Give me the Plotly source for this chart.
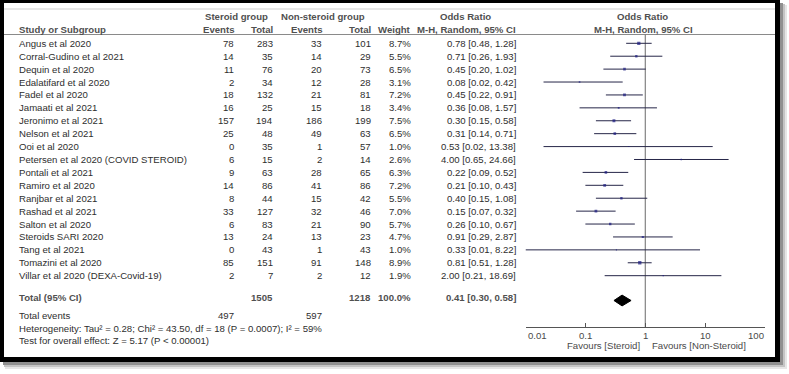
import math
import plotly.graph_objects as go

# ---------------- data ----------------
studies = [
    "Angus et al 2020", "Corral-Gudino et al 2021", "Dequin et al 2020",
    "Edalatifard et al 2020", "Fadel et al 2020", "Jamaati et al 2021",
    "Jeronimo et al 2021", "Nelson et al 2021", "Ooi et al 2020",
    "Petersen et al 2020 (COVID STEROID)", "Pontali et al 2021",
    "Ramiro et al 2020", "Ranjbar et al 2021", "Rashad et al 2021",
    "Salton et al 2020", "Steroids SARI 2020", "Tang et al 2021",
    "Tomazini et al 2020", "Villar et al 2020 (DEXA-Covid-19)",
]
ster_events = [78, 14, 11, 2, 18, 16, 157, 25, 0, 6, 9, 14, 8, 33, 6, 13, 0, 85, 2]
ster_total = [283, 35, 76, 34, 132, 25, 194, 48, 35, 15, 63, 86, 44, 127, 83, 24, 43, 151, 7]
non_events = [33, 14, 20, 12, 21, 15, 186, 49, 1, 2, 28, 41, 15, 32, 21, 13, 1, 91, 2]
non_total = [101, 29, 73, 28, 81, 18, 199, 63, 57, 14, 65, 86, 42, 46, 90, 23, 43, 148, 12]
weights = [8.7, 5.5, 6.5, 3.1, 7.2, 3.4, 7.5, 6.5, 1.0, 2.6, 6.3, 7.2, 5.5, 7.0, 5.7, 4.7, 1.0, 8.9, 1.9]
odds = [0.78, 0.71, 0.45, 0.08, 0.45, 0.36, 0.30, 0.31, 0.53, 4.00, 0.22, 0.21, 0.40, 0.15, 0.26, 0.91, 0.33, 0.81, 2.00]
ci_lo = [0.48, 0.26, 0.20, 0.02, 0.22, 0.08, 0.15, 0.14, 0.02, 0.65, 0.09, 0.10, 0.15, 0.07, 0.10, 0.29, 0.01, 0.51, 0.21]
ci_hi = [1.28, 1.93, 1.02, 0.42, 0.91, 1.57, 0.58, 0.71, 13.38, 24.66, 0.52, 0.43, 1.08, 0.32, 0.67, 2.87, 8.22, 1.28, 18.69]

total_ster = 1505
total_non = 1218
total_ster_events = 497
total_non_events = 597
total_weight = 100.0
pooled_or, pooled_lo, pooled_hi = 0.41, 0.30, 0.58

tick_vals = [0.01, 0.1, 1, 10, 100]
tick_text = ["0.01", "0.1", "1", "10", "100"]

heterogeneity = "Heterogeneity: Tau\u00b2 = 0.28; Chi\u00b2 = 43.50, df = 18 (P = 0.0007); I\u00b2 = 59%"
overall_test = "Test for overall effect: Z = 5.17 (P < 0.00001)"

# ---------------- layout geometry ----------------
W, H = 789, 374
ROW0 = 43.3      # pixel centre of first study row
ROWH = 12.91     # pixel height of a row
FONT = "Liberation Sans, Arial, sans-serif"
BODY = "#2e2e2e"
HEAD = "#505050"
FS = 9.6


def px(x):
    return x / W


def py(y):
    return 1 - y / H


def row_of(ypix):
    return (ypix - ROW0) / ROWH


n = len(studies)
row_total = row_of(297.3)
row_events = row_of(315.7)
row_het = row_of(328.0)
row_test = row_of(340.3)
row_head1 = row_of(16.0)
row_head2 = row_of(29.0)
row_axis = row_of(327.0)
row_ticklab = row_of(335.5)
row_fav = row_of(345.7)
row_diamond = row_of(300.5)

fig = go.Figure()

# vertical line of no effect
fig.add_trace(go.Scatter(
    x=[1, 1], y=[row_of(34.5), row_axis], mode="lines",
    line=dict(color="#6a6a6a", width=1), hoverinfo="skip", showlegend=False))

# confidence intervals
cx, cy = [], []
for i in range(n):
    cx += [ci_lo[i], ci_hi[i], None]
    cy += [i, i, None]
fig.add_trace(go.Scatter(
    x=cx, y=cy, mode="lines", line=dict(color="#262648", width=1),
    hoverinfo="skip", showlegend=False))

# point estimates
fig.add_trace(go.Scatter(
    x=odds, y=list(range(n)), mode="markers",
    marker=dict(symbol="square", color="#1a1a80",
                size=[0.8 + 0.28 * w for w in weights], line=dict(width=0)),
    hoverinfo="skip", showlegend=False))

# pooled diamond
dh = 0.42
fig.add_trace(go.Scatter(
    x=[pooled_lo, pooled_or, pooled_hi, pooled_or, pooled_lo],
    y=[row_diamond, row_diamond - dh, row_diamond, row_diamond + dh, row_diamond],
    mode="lines", fill="toself", fillcolor="black",
    line=dict(color="black", width=1), hoverinfo="skip", showlegend=False))

ann = []


def txt(x, y, s, anchor="left", bold=False, color=None, size=FS):
    ann.append(dict(
        x=px(x), y=y, xref="paper", yref="y", text=("<b>%s</b>" % s) if bold else s,
        showarrow=False, xanchor=anchor, align=anchor, yanchor="middle", borderpad=0,
        font=dict(family=FONT, size=size, color=color or (HEAD if bold else BODY))))


# headers
txt(236, row_head1, "Steroid group", "center", True)
txt(323, row_head1, "Non-steroid group", "center", True)
txt(465, row_head1, "Odds Ratio", "center", True)
txt(642, row_head1, "Odds Ratio", "center", True)
txt(18, row_head2, "Study or Subgroup", "left", True)
txt(235, row_head2, "Events", "right", True)
txt(274, row_head2, "Total", "right", True)
txt(323, row_head2, "Events", "right", True)
txt(372, row_head2, "Total", "right", True)
txt(412, row_head2, "Weight", "right", True)
txt(517, row_head2, "M-H, Random, 95% CI", "right", True)
txt(643, row_head2, "M-H, Random, 95% CI", "center", True)

# study rows
for i in range(n):
    txt(18, i, studies[i])
    txt(235, i, str(ster_events[i]), "right")
    txt(274, i, str(ster_total[i]), "right")
    txt(323, i, str(non_events[i]), "right")
    txt(372, i, str(non_total[i]), "right")
    txt(412, i, "%.1f%%" % weights[i], "right")
    txt(517, i, "%.2f [%.2f, %.2f]" % (odds[i], ci_lo[i], ci_hi[i]), "right")

# totals
txt(18, row_total, "Total (95% CI)", "left", True)
txt(274, row_total, str(total_ster), "right", True)
txt(372, row_total, str(total_non), "right", True)
txt(412, row_total, "%.1f%%" % total_weight, "right", True)
txt(517, row_total, "%.2f [%.2f, %.2f]" % (pooled_or, pooled_lo, pooled_hi), "right", True)
txt(18, row_events, "Total events")
txt(235, row_events, str(total_ster_events), "right")
txt(323, row_events, str(total_non_events), "right")
txt(18, row_het, heterogeneity)
txt(18, row_test, overall_test)

# tick labels (outer ones aligned inward, as in the original)
x_lo_px, x_hi_px = 525.5, 765.0
for v, t in zip(tick_vals, tick_text):
    xp = x_lo_px + (math.log10(v) + 2) / 4 * (x_hi_px - x_lo_px)
    anchor = "left" if v == tick_vals[0] else ("right" if v == tick_vals[-1] else "center")
    txt(xp + (1 if anchor == "left" else 0), row_ticklab, t, anchor, color="#4a4a4a")

txt(641, row_fav, "Favours [Steroid]", "right", color="#4a4a4a")
txt(651, row_fav, "Favours [Non-Steroid]", "left", color="#4a4a4a")

# frame with shadow and rules
shapes = []


def rect(x0, y0, x1, y1, color):
    shapes.append(dict(type="rect", xref="paper", yref="paper",
                       x0=px(x0), x1=px(x1), y0=py(y1), y1=py(y0),
                       fillcolor=color, line=dict(width=0), layer="below"))


rect(5, 5, 787, 369, "#e6e6e6")
rect(4, 4, 785, 367, "#c4c4c4")
rect(3, 3, 783, 365, "#909090")
rect(0, 0, 780, 362, "#000000")
rect(4, 3, 775, 357, "#ffffff")


def hline(x0, x1, y, color):
    shapes.append(dict(type="line", xref="paper", yref="paper",
                       x0=px(x0), x1=px(x1), y0=py(y), y1=py(y),
                       line=dict(color=color, width=1), layer="below"))


hline(4, 775, 9, "#cfcfcf")
hline(4, 775, 34.5, "#8a8a8a")

fig.update_layout(
    width=W, height=H, margin=dict(l=0, r=0, t=0, b=0), autosize=False,
    paper_bgcolor="white", plot_bgcolor="rgba(0,0,0,0)",
    annotations=ann, shapes=shapes, showlegend=False,
    xaxis=dict(type="log", range=[-2, 2], domain=[px(x_lo_px), px(x_hi_px)],
               anchor="free", position=py(327.0), showgrid=False, zeroline=False,
               showline=True, linecolor="#555555", linewidth=1,
               ticks="inside", ticklen=4, tickcolor="#555555", tickwidth=1,
               tickvals=tick_vals, showticklabels=False, fixedrange=True),
    yaxis=dict(range=[row_of(H), row_of(0)], domain=[0, 1], visible=False,
               fixedrange=True),
)

fig.write_html(
    "out.html",
    config={"displayModeBar": False},
    post_script="document.body.style.margin='0';document.body.style.overflow='hidden';",
)
